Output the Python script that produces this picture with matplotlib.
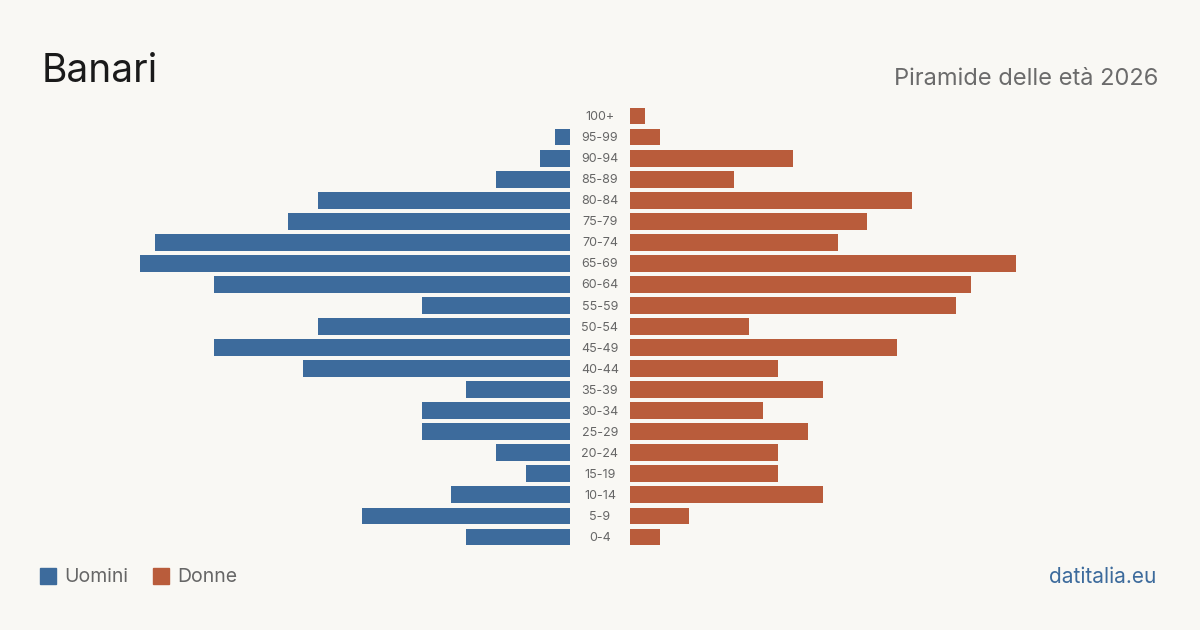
import matplotlib.pyplot as plt
import numpy as np

plt.rcParams['font.family'] = ['Inter', 'DejaVu Sans']

ages = ["100+", "95-99", "90-94", "85-89", "80-84", "75-79", "70-74", "65-69",
        "60-64", "55-59", "50-54", "45-49", "40-44", "35-39", "30-34", "25-29",
        "20-24", "15-19", "10-14", "5-9", "0-4"]
uomini = [0, 1, 2, 5, 17, 19, 28, 29, 24, 10, 17, 24, 18, 7, 10, 10, 5, 3, 8, 14, 7]
donne = [1, 2, 11, 7, 19, 16, 14, 26, 23, 22, 8, 18, 10, 13, 9, 12, 10, 10, 13, 4, 2]

bg = "#f9f8f4"
c_m = "#3d6b9c"
c_f = "#b95c3b"

W, H = 1200, 630
fig = plt.figure(figsize=(12, 6.3), dpi=100, facecolor=bg)

xmax = 30
px = 430 / 29.0  # pixels per unit
wpx = xmax * px
top, bot = 105.5, 547.5

axl = fig.add_axes([(570 - wpx) / W, 1 - bot / H, wpx / W, (bot - top) / H])
axr = fig.add_axes([630 / W, 1 - bot / H, wpx / W, (bot - top) / H])

y = np.arange(len(ages))
axl.barh(y, uomini, height=0.8, color=c_m)
axr.barh(y, donne, height=0.8, color=c_f)
axl.set_xlim(xmax, 0)
axr.set_xlim(0, xmax)
for ax in (axl, axr):
    ax.set_ylim(len(ages) - 0.5, -0.5)
    ax.axis("off")

for i, a in enumerate(ages):
    axr.text(-30 / px, i + 0.05, a, ha="center", va="center", fontsize=9, color="#666666")

fig.text(42 / W, 1 - 82 / H, "Banari", fontsize=28, color="#1a1a1a", va="baseline")
fig.text(1158 / W, 1 - 85 / H, "Piramide delle età 2026", fontsize=17,
         color="#6b6b6b", ha="right", va="baseline")

# legend
fig.patches.append(plt.Rectangle((40 / W, 1 - 584 / H), 16 / W, 16 / H,
                                 transform=fig.transFigure, color=c_m))
fig.text(64 / W, 1 - 577 / H, "Uomini", fontsize=14, color="#666666", va="center")
fig.patches.append(plt.Rectangle((153 / W, 1 - 584 / H), 16 / W, 16 / H,
                                 transform=fig.transFigure, color=c_f))
fig.text(177 / W, 1 - 577 / H, "Donne", fontsize=14, color="#666666", va="center")

fig.text(1156 / W, 1 - 577 / H, "datitalia.eu", fontsize=15, color=c_m,
         ha="right", va="center")

fig.savefig("out.png", dpi=100, facecolor=bg)
